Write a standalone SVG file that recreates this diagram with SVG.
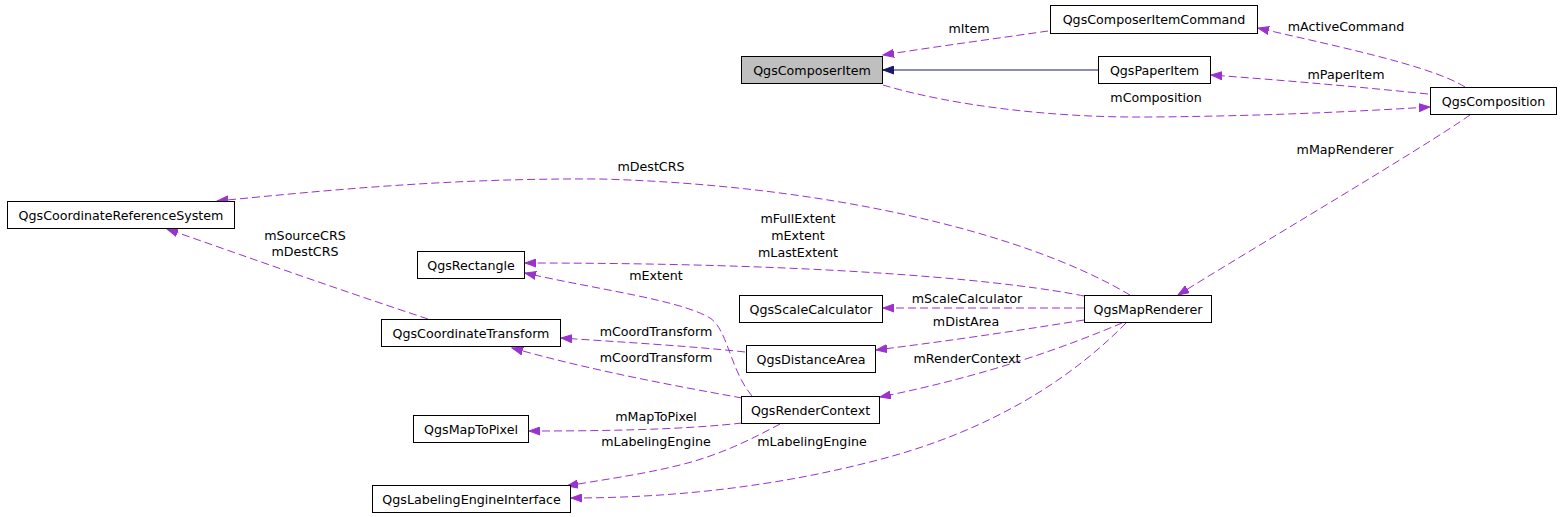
<svg xmlns="http://www.w3.org/2000/svg" width="1563" height="517" viewBox="0 0 1563 517">
<style>
.node rect{fill:#ffffff;stroke:#000000;stroke-width:1}
.node text,.lbl{font-family:"DejaVu Sans",sans-serif;font-size:12.67px;fill:#000000;text-anchor:middle}
.e{fill:none;stroke:#9a32cd;stroke-width:1;stroke-dasharray:8,4;marker-end:url(#ap)}
.inh{fill:none;stroke:#191970;stroke-width:1;marker-end:url(#ab)}
</style>
<defs>
<marker id="ap" markerUnits="userSpaceOnUse" markerWidth="12" markerHeight="9" refX="11" refY="4" orient="auto" viewBox="0 0 12 8">
<path d="M0,0 L11,4 L0,8 z" fill="#9a32cd" stroke="#9a32cd"/>
</marker>
<marker id="ab" markerUnits="userSpaceOnUse" markerWidth="12" markerHeight="9" refX="11" refY="4" orient="auto" viewBox="0 0 12 8">
<path d="M0,0 L11,4 L0,8 z" fill="#191970" stroke="#191970"/>
</marker>
</defs>
<rect width="1563" height="517" fill="#ffffff"/>
<g id="connectors">
<path class="inh" d="M1098,70 L883,70"/>
<path class="e" d="M1048,31 C1000,38 940,46 883,55"/>
<path class="e" d="M883,85 C950,105 1050,118 1150,117 C1280,116 1380,110 1430,107"/>
<path class="e" d="M1465,87 C1430,65 1330,45 1258,28"/>
<path class="e" d="M1428,94 C1350,86 1280,80 1211,75"/>
<path class="e" d="M1470,115 C1420,150 1250,250 1178,295"/>
<path class="e" d="M1130,295 C1020,230 820,185 600,179 C450,178 330,190 217,201"/>
<path class="e" d="M428,319 C340,290 250,258 167,229"/>
<path class="e" d="M1084,296 C1020,283 850,263 525,263"/>
<path class="e" d="M752,396 C730,370 728,330 710,318 C680,300 600,290 525,273"/>
<path class="e" d="M1084,308 L883,308"/>
<path class="e" d="M1084,320 C1010,332 940,342 876,350"/>
<path class="e" d="M1122,323 C1070,345 990,375 880,397"/>
<path class="e" d="M1126,323 C1080,370 1000,430 870,462 C780,485 680,498 571,498"/>
<path class="e" d="M745,352 C690,346 620,342 561,338"/>
<path class="e" d="M742,398 C670,385 590,370 512,348"/>
<path class="e" d="M742,423 C680,430 600,431 529,431"/>
<path class="e" d="M780,424 C750,440 720,455 680,465 C640,475 600,480 567,486"/>
<text class="lbl" x="969" y="33">mItem</text>
<text class="lbl" x="1156" y="102">mComposition</text>
<text class="lbl" x="1346" y="30.5">mActiveCommand</text>
<text class="lbl" x="1346" y="78.5">mPaperItem</text>
<text class="lbl" x="1345" y="154">mMapRenderer</text>
<text class="lbl" x="651" y="170.5">mDestCRS</text>
<text class="lbl" x="305" y="239.5">mSourceCRS</text>
<text class="lbl" x="305" y="256">mDestCRS</text>
<text class="lbl" x="798" y="222.5">mFullExtent</text>
<text class="lbl" x="798" y="239.5">mExtent</text>
<text class="lbl" x="798" y="256.5">mLastExtent</text>
<text class="lbl" x="656" y="279.5">mExtent</text>
<text class="lbl" x="967" y="302.5">mScaleCalculator</text>
<text class="lbl" x="966" y="325.5">mDistArea</text>
<text class="lbl" x="656" y="335.5">mCoordTransform</text>
<text class="lbl" x="656" y="362">mCoordTransform</text>
<text class="lbl" x="967" y="362.5">mRenderContext</text>
<text class="lbl" x="656" y="421">mMapToPixel</text>
<text class="lbl" x="656" y="446">mLabelingEngine</text>
<text class="lbl" x="812" y="446">mLabelingEngine</text>
</g>
<g id="QgsComposerItem" class="node"><rect x="741.5" y="56.5" width="141" height="27" style="fill:#bfbfbf"/><text x="812" y="74.5">QgsComposerItem</text></g>
<g id="QgsComposerItemCommand" class="node"><rect x="1050.5" y="5.5" width="207" height="28"/><text x="1154" y="23.5">QgsComposerItemCommand</text></g>
<g id="QgsPaperItem" class="node"><rect x="1098.5" y="56.5" width="112" height="27"/><text x="1154.5" y="74.5">QgsPaperItem</text></g>
<g id="QgsComposition" class="node"><rect x="1430.5" y="87.5" width="126" height="27"/><text x="1493.5" y="105.5">QgsComposition</text></g>
<g id="QgsCoordinateReferenceSystem" class="node"><rect x="7.5" y="201.5" width="227" height="27"/><text x="121" y="219.5">QgsCoordinateReferenceSystem</text></g>
<g id="QgsRectangle" class="node"><rect x="417.5" y="251.5" width="107" height="27"/><text x="471" y="269.5">QgsRectangle</text></g>
<g id="QgsCoordinateTransform" class="node"><rect x="381.5" y="319.5" width="179" height="27"/><text x="471" y="337.5">QgsCoordinateTransform</text></g>
<g id="QgsScaleCalculator" class="node"><rect x="739.5" y="295.5" width="143" height="27"/><text x="811" y="313.5">QgsScaleCalculator</text></g>
<g id="QgsMapRenderer" class="node"><rect x="1084.5" y="295.5" width="127" height="27"/><text x="1148" y="313.5">QgsMapRenderer</text></g>
<g id="QgsDistanceArea" class="node"><rect x="746.5" y="345.5" width="129" height="27"/><text x="811" y="363.5">QgsDistanceArea</text></g>
<g id="QgsRenderContext" class="node"><rect x="741.5" y="396.5" width="138" height="27"/><text x="810.5" y="414.5">QgsRenderContext</text></g>
<g id="QgsMapToPixel" class="node"><rect x="413.5" y="415.5" width="115" height="27"/><text x="471" y="433.5">QgsMapToPixel</text></g>
<g id="QgsLabelingEngineInterface" class="node"><rect x="372.5" y="485.5" width="198" height="27"/><text x="471.5" y="503.5">QgsLabelingEngineInterface</text></g>
</svg>
